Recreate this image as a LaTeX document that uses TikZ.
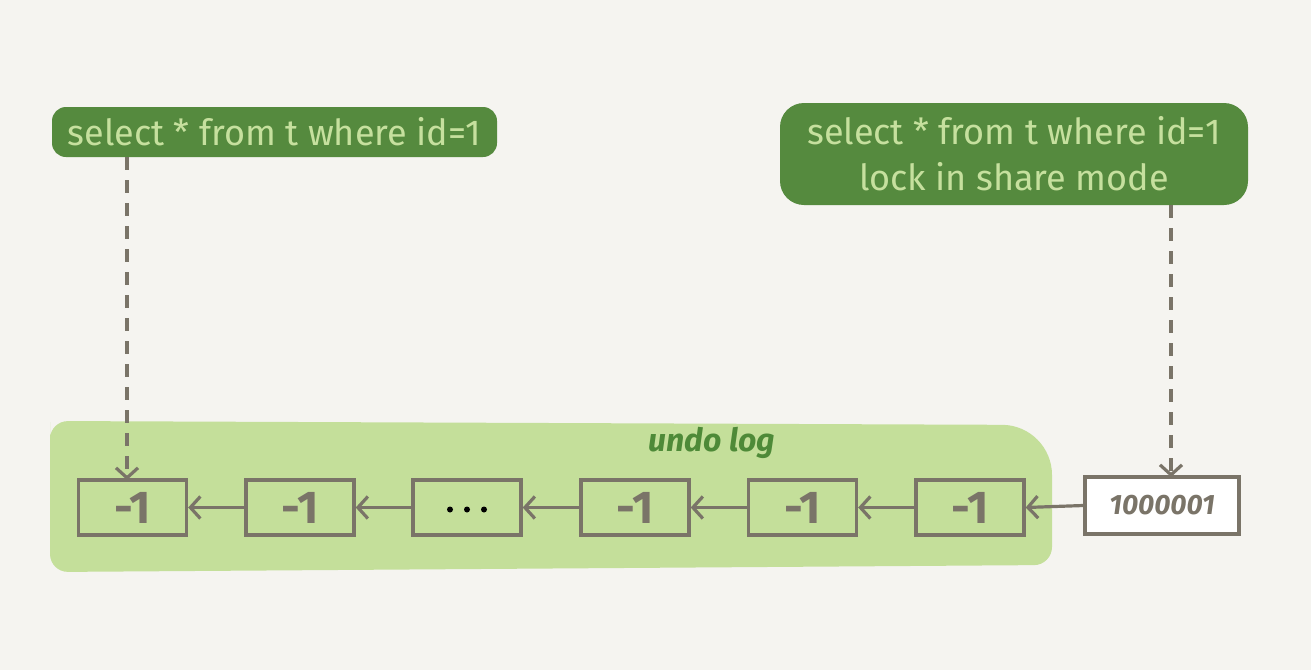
\documentclass[tikz,border=0pt]{standalone}
\usepackage{fontspec}
\setmainfont{Fira Sans}
\usetikzlibrary{arrows.meta}
\definecolor{bg}{HTML}{F5F4F0}
\definecolor{darkg}{HTML}{558A3E}
\definecolor{lightg}{HTML}{C4DF9A}
\definecolor{txtg}{HTML}{C6E09E}
\definecolor{stroke}{HTML}{7A7468}
\definecolor{ultxt}{HTML}{4E8A38}
\tikzset{
  qlabel/.style={fill=darkg, text=txtg, rounded corners=14pt, align=center, inner sep=0pt, font=\fontsize{36}{46}\selectfont},
  cell/.style={draw=stroke, line width=3.4pt, fill=lightg, minimum width=108pt, minimum height=55pt, inner sep=0pt, text=stroke, font=\fontsize{46}{46}\selectfont\bfseries},
  link/.style={draw=stroke, line width=3.2pt, -{Straight Barb[length=10pt,width=22pt,line width=3.2pt]}},
  dashptr/.style={draw=stroke, line width=3.2pt, dash pattern=on 13pt off 10pt, -{Straight Barb[length=10pt,width=22pt,line width=3.2pt]}}
}
\begin{document}
\begin{tikzpicture}[x=1pt,y=-1pt]
\fill[bg] (0,0) rectangle (1311,670);
\useasboundingbox (0,0) rectangle (1311,670);
% undo log region
\fill[lightg] (50,440) [rounded corners=18pt] -- (50,572) -- (1052,565) [rounded corners=50pt]-- (1052,425) [rounded corners=18pt] -- (50,421) -- cycle;
\node[text=ultxt, font=\fontsize{32}{34}\selectfont\itshape\bfseries, anchor=center] (ul) at (712,443) {undo log};
% labels
\node[qlabel, minimum width=445pt, minimum height=50pt] (q1) at (274.5,132) {select * from t where id=1};
\node[qlabel, minimum width=468pt, minimum height=102pt, rounded corners=24pt] (q2) at (1014,154) {select * from t where id=1\\lock in share mode};
% cells
\node[cell] (c1) at (132.5,507.5) {-1};
\node[cell] (c2) at (300,507.5) {-1};
\node[cell] (c3) at (467,507.5) {};
\foreach \dx in {-17,0,17} \fill[stroke] ([xshift=\dx pt, yshift=-2pt]c3.center) circle (3pt);
\node[cell] (c4) at (635,507.5) {-1};
\node[cell] (c5) at (802.5,507.5) {-1};
\node[cell] (c6) at (970,507.5) {-1};
\node[cell, fill=white, minimum width=154pt, minimum height=57pt, font=\fontsize{28}{30}\selectfont\bfseries\itshape] (c7) at (1162,505.5) {1000001};
% links
\draw[link] (c7.west) -- (c6.east);
\draw[link] (c6.west) -- (c5.east);
\draw[link] (c5.west) -- (c4.east);
\draw[link] (c4.west) -- (c3.east);
\draw[link] (c3.west) -- (c2.east);
\draw[link] (c2.west) -- (c1.east);
% dashed pointers
\coordinate (d1) at (127,480);
\coordinate (s1) at (127,157);
\draw[dashptr] (s1) -- (d1);
\coordinate (d2) at (1171,477);
\coordinate (s2) at (1171,205);
\draw[dashptr] (s2) -- (d2);
\end{tikzpicture}
\end{document}
